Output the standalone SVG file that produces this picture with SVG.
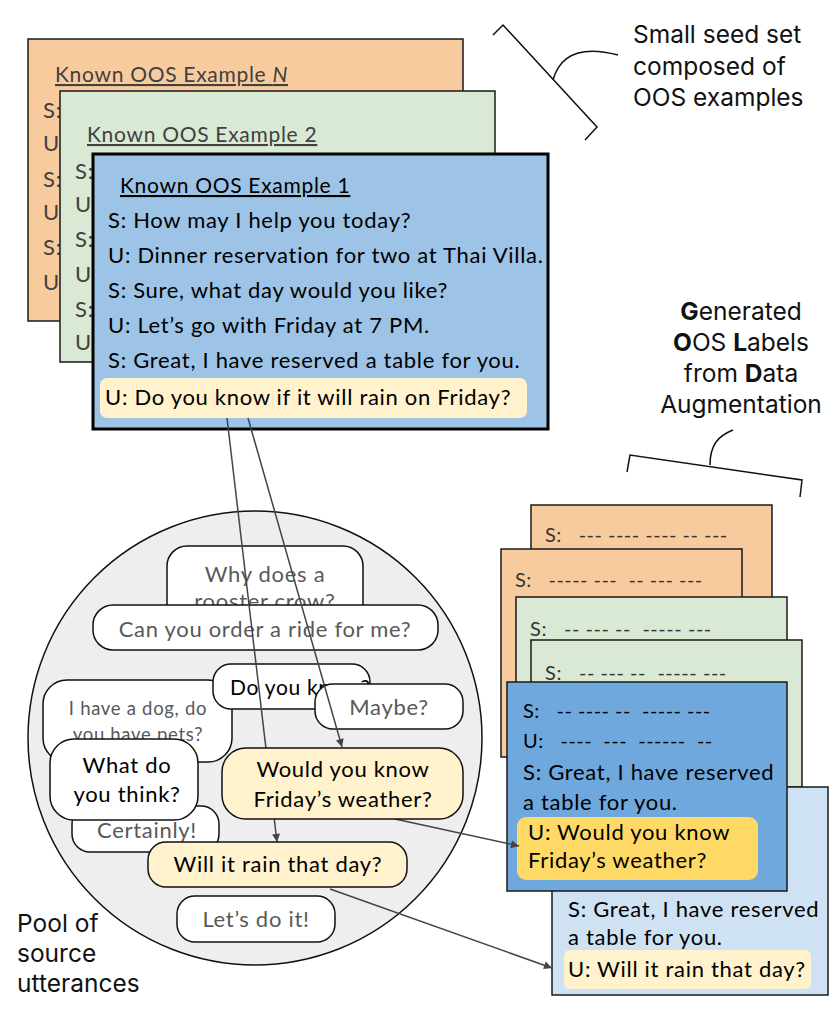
<svg xmlns="http://www.w3.org/2000/svg" width="830" height="1009" viewBox="0 0 830 1009">
<style>
.cal{font-family:Lato,"Liberation Sans",sans-serif;letter-spacing:0.7px}
.gs{font-family:Inter,Roboto,"Liberation Sans",sans-serif;font-size:24.5px;fill:#111}
.card{stroke:#1a1a1a;stroke-width:1.5}
.org{fill:#f8cb9f}
.grn{fill:#d9e9d4}
.gray{fill:#404040}
.blk{fill:#000}
.ttl{font-size:21px;text-decoration:underline}
.ln{font-size:22px}
.dash{font-size:20px;fill:#333}
.bub{fill:#fff;stroke:#111;stroke-width:1.5}
.ybub{fill:#fff2cc;stroke:#111;stroke-width:1.5}
.bt{font-size:22px;text-anchor:middle}
.g5{fill:#595959}
.con{stroke:#444;stroke-width:1.5;fill:none}
.brk{stroke:#111;stroke-width:1.5;fill:none}
</style>
<defs>
<marker id="arr" viewBox="0 0 10 10" refX="10" refY="5" markerWidth="9" markerHeight="8" markerUnits="userSpaceOnUse" orient="auto"><path d="M0,0 L10,5 L0,10 z" fill="#444"/></marker>
</defs>
<rect width="830" height="1009" fill="#fff"/>

<!-- Left stack -->
<g id="card-n">
<rect class="card org" x="28" y="39" width="435" height="282"/>
<text class="cal ttl gray" x="55" y="82">Known OOS Example <tspan font-style="italic">N</tspan></text>
<g class="cal ln gray">
<text x="43" y="118">S:</text><text x="43" y="151">U:</text><text x="43" y="187">S:</text>
<text x="43" y="220">U:</text><text x="43" y="255">S:</text><text x="43" y="290">U:</text>
</g>
</g>
<g id="card-2">
<rect class="card grn" x="60" y="91" width="435" height="271"/>
<text class="cal ttl gray" x="87" y="142">Known OOS Example 2</text>
<g class="cal ln gray">
<text x="75" y="179">S:</text><text x="75" y="212">U:</text><text x="75" y="247">S:</text>
<text x="75" y="282">U:</text><text x="75" y="317">S:</text><text x="75" y="350">U:</text>
</g>
</g>
<g id="card-1">
<rect x="93" y="154" width="455" height="275" fill="#9dc3e6" stroke="#000" stroke-width="3"/>
<text class="cal ttl blk" x="120" y="193">Known OOS Example 1</text>
<g class="cal ln blk">
<text x="108" y="228">S: How may I help you today?</text>
<text x="108" y="263">U: Dinner reservation for two at Thai Villa.</text>
<text x="108" y="298">S: Sure, what day would you like?</text>
<text x="108" y="333">U: Let’s go with Friday at 7 PM.</text>
<text x="108" y="368">S: Great, I have reserved a table for you.</text>
</g>
<rect x="100" y="378" width="427" height="40" rx="7" fill="#fff2cc"/>
<text class="cal ln blk" x="105" y="405">U: Do you know if it will rain on Friday?</text>
</g>

<!-- Top annotation -->
<g id="seed-label">
<polyline class="brk" points="493,35 503,25 597,127 585,140"/>
<path class="brk" d="M553,80 C560,55 580,45 618,55"/>
<text class="gs" x="633" y="43">Small seed set</text>
<text class="gs" x="633" y="75">composed of</text>
<text class="gs" x="633" y="106">OOS examples</text>
</g>

<g id="gen-label">
<text class="gs" x="741" y="320" text-anchor="middle"><tspan font-weight="bold">G</tspan>enerated</text>
<text class="gs" x="741" y="351" text-anchor="middle"><tspan font-weight="bold">O</tspan>OS <tspan font-weight="bold">L</tspan>abels</text>
<text class="gs" x="741" y="382" text-anchor="middle">from <tspan font-weight="bold">D</tspan>ata</text>
<text class="gs" x="741" y="413" text-anchor="middle">Augmentation</text>
<polyline class="brk" points="627,472 630,455 802,480 800,497"/>
<path class="brk" d="M710,465 C710,445 718,436 733,430"/>
</g>

<!-- Right stack -->
<g id="gen-a">
<rect class="card org" x="531" y="505" width="241" height="200"/>
<text class="cal dash" x="545" y="542" textLength="183" xml:space="preserve">S:   --- ---- ---- -- ---</text>
</g>
<g id="gen-b">
<rect class="card org" x="501" y="549" width="241" height="208"/>
<text class="cal dash" x="515" y="587" textLength="188" xml:space="preserve">S:   ----- ---  -- --- ---</text>
</g>
<g id="gen-c">
<rect class="card grn" x="516" y="597" width="271" height="160"/>
<text class="cal dash" x="530" y="636" textLength="182" xml:space="preserve">S:   -- --- --  ----- ---</text>
</g>
<g id="gen-d">
<rect class="card grn" x="531" y="640" width="271" height="147"/>
<text class="cal dash" x="545" y="680" textLength="182" xml:space="preserve">S:   -- --- --  ----- ---</text>
</g>
<g id="gen-f">
<rect class="card" x="552" y="787" width="276" height="208" fill="#cfe2f3"/>
<text class="cal ln blk" x="568" y="917">S: Great, I have reserved</text>
<text class="cal ln blk" x="568" y="945">a table for you.</text>
<rect x="564" y="950" width="247" height="39" rx="6" fill="#fff2cc"/>
<text class="cal ln blk" x="568" y="977">U: Will it rain that day?</text>
</g>
<g id="gen-e">
<rect class="card" x="507" y="682" width="280" height="209" fill="#6fa8dc"/>
<text class="cal blk" font-size="20" x="523" y="718" textLength="188" xml:space="preserve">S:   -- ---- --  ----- ---</text>
<text class="cal blk" font-size="20" x="523" y="748" textLength="190" xml:space="preserve">U:   ----  ---  ------  --</text>
<text class="cal ln blk" x="523" y="780">S: Great, I have reserved</text>
<text class="cal ln blk" x="523" y="810">a table for you.</text>
<rect x="517" y="817" width="241" height="63" rx="9" fill="#ffd966"/>
<text class="cal ln blk" x="528" y="840">U: Would you know</text>
<text class="cal ln blk" x="528" y="868">Friday’s weather?</text>
</g>

<!-- Pool -->
<g id="pool">
<circle cx="255" cy="738" r="227" fill="#eeeeee" stroke="#111" stroke-width="1.5"/>
<text class="gs" x="17" y="932">Pool of</text>
<text class="gs" x="17" y="962">source</text>
<text class="gs" x="17" y="992">utterances</text>
</g>
<g id="u-rooster">
<rect class="bub" x="167" y="546" width="196" height="80" rx="20"/>
<text class="cal bt g5" x="265" y="582">Why does a</text>
<text class="cal bt g5" x="265" y="609">rooster crow?</text>
</g>
<g id="u-ride">
<rect class="bub" x="93" y="605" width="345" height="45" rx="20"/>
<text class="cal bt g5" x="265" y="637">Can you order a ride for me?</text>
</g>
<g id="u-dog">
<rect class="bub" x="43" y="680" width="189" height="82" rx="24"/>
<text class="cal g5" font-size="18.5" text-anchor="middle" x="138" y="715">I have a dog, do</text>
<text class="cal g5" font-size="18.5" text-anchor="middle" x="138" y="741">you have pets?</text>
</g>
<g id="u-doyouknow">
<rect class="bub" x="213" y="664" width="157" height="45" rx="18"/>
<text class="cal blk" font-size="21" x="230" y="695">Do you know?</text>
</g>
<g id="u-maybe">
<rect class="bub" x="315" y="684" width="148" height="45" rx="18"/>
<text class="cal bt g5" font-size="21" x="389" y="715">Maybe?</text>
</g>
<g id="u-certainly">
<rect class="bub" x="72" y="806" width="147" height="46" rx="18"/>
<text class="cal bt g5" x="147" y="838">Certainly!</text>
</g>
<g id="u-whatdo">
<rect class="bub" x="50" y="739" width="148" height="81" rx="24"/>
<text class="cal bt blk" font-size="20" x="127" y="773">What do</text>
<text class="cal bt blk" font-size="20" x="127" y="802">you think?</text>
</g>
<g id="u-letsdo">
<rect class="bub" x="177" y="896" width="158" height="46" rx="18"/>
<text class="cal bt g5" x="256" y="927">Let’s do it!</text>
</g>

<g id="connectors">
<line class="con" x1="227" y1="418" x2="277" y2="842" marker-end="url(#arr)"/>
<line class="con" x1="248" y1="418" x2="342" y2="747" marker-end="url(#arr)"/>
<line class="con" x1="395" y1="819" x2="519" y2="846" marker-end="url(#arr)"/>
<line class="con" x1="330" y1="889" x2="552" y2="968" marker-end="url(#arr)"/>
</g>

<g id="u-weather">
<rect class="ybub" x="222" y="748" width="241" height="71" rx="24"/>
<text class="cal bt blk" x="343" y="777">Would you know</text>
<text class="cal bt blk" x="343" y="807">Friday’s weather?</text>
</g>
<g id="u-rain">
<rect class="ybub" x="148" y="842" width="259" height="45" rx="18"/>
<text class="cal bt blk" x="278" y="872">Will it rain that day?</text>
</g>
</svg>
